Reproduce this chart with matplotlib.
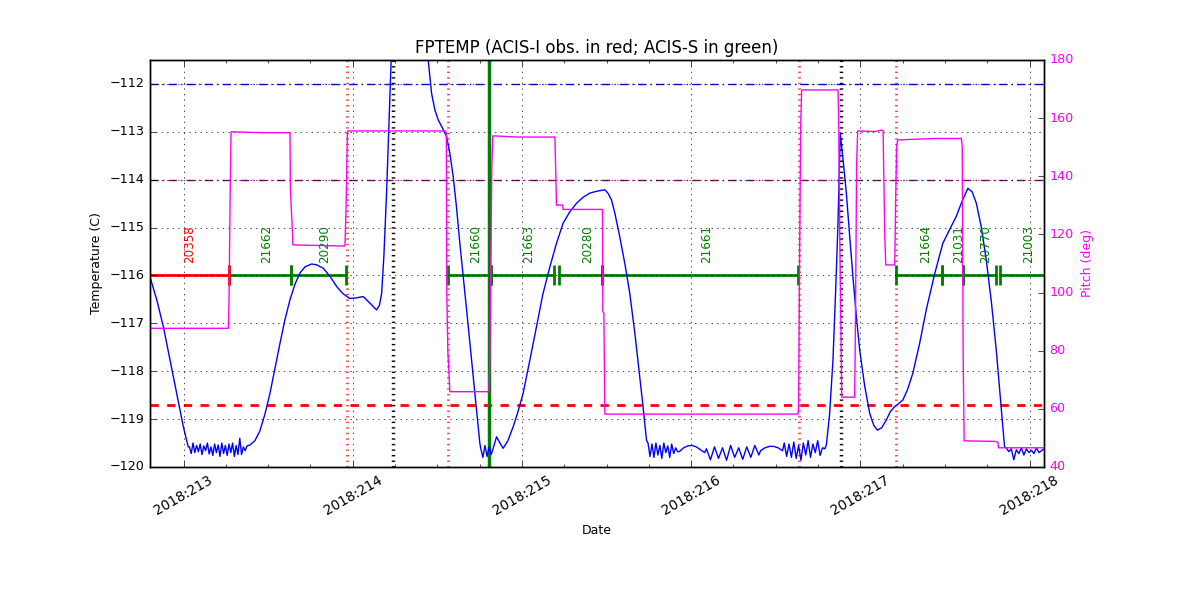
import numpy as np
import matplotlib
matplotlib.use('Agg')
import matplotlib.pyplot as plt
from matplotlib.ticker import FuncFormatter, MultipleLocator

plt.style.use('classic')

# ---- FPTEMP (day of year 2018, deg C) ----
# smooth stretches
t_s1 = [212.802, 212.842, 212.881, 212.920, 212.960, 212.999, 213.028]
v_s1 = [-116.03, -116.51, -117.07, -117.76, -118.46, -119.16, -119.58]
t_s2 = [213.393, 213.422, 213.451, 213.481, 213.511, 213.540, 213.570, 213.599,
        213.629, 213.659, 213.688, 213.718, 213.757, 213.789, 213.826, 213.866,
        213.905, 213.942, 213.983, 214.019, 214.062, 214.102, 214.141, 214.158,
        214.171, 214.184, 214.200, 214.220, 214.232, 214.326, 214.446, 214.466,
        214.486, 214.505, 214.530, 214.555, 214.574, 214.594, 214.614, 214.633,
        214.673, 214.712, 214.751]
v_s2 = [-119.54, -119.45, -119.25, -118.90, -118.46, -117.95, -117.42, -116.93,
        -116.51, -116.18, -115.95, -115.82, -115.76, -115.78, -115.85, -116.02,
        -116.23, -116.38, -116.48, -116.47, -116.44, -116.58, -116.72, -116.62,
        -116.37, -115.60, -114.28, -112.20, -111.00, -109.50, -111.50, -112.20,
        -112.55, -112.75, -112.92, -113.10, -113.45, -113.94, -114.60, -115.33,
        -116.72, -118.11, -119.50]
t_s3 = [214.850, 214.870, 214.889, 214.917, 214.948, 214.976, 215.007, 215.046,
        215.086, 215.123, 215.165, 215.204, 215.243, 215.283, 215.323, 215.360,
        215.401, 215.443, 215.490, 215.508, 215.529, 215.549, 215.578, 215.608,
        215.637, 215.667, 215.696, 215.716, 215.736]
v_s3 = [-119.37, -119.50, -119.61, -119.45, -119.16, -118.85, -118.46, -117.78,
        -117.07, -116.40, -115.82, -115.33, -114.91, -114.67, -114.49, -114.37,
        -114.28, -114.24, -114.21, -114.28, -114.42, -114.70, -115.19, -115.75,
        -116.37, -117.20, -118.11, -118.75, -119.44]
t_s4 = [216.799, 216.818, 216.838, 216.854, 216.867, 216.881, 216.898, 216.917,
        216.936, 216.956, 216.976, 216.996, 217.025, 217.055, 217.079, 217.100,
        217.126, 217.153, 217.176, 217.202, 217.225, 217.251, 217.279, 217.310,
        217.350, 217.389, 217.438, 217.487, 217.526, 217.566, 217.601, 217.635,
        217.660, 217.685, 217.715, 217.744, 217.774, 217.803, 217.828, 217.852]
v_s4 = [-119.54, -118.90, -117.76, -116.30, -114.98, -113.03, -113.60, -114.28,
        -115.15, -116.03, -116.85, -117.56, -118.30, -118.88, -119.13, -119.23,
        -119.18, -119.02, -118.85, -118.74, -118.68, -118.60, -118.38, -118.04,
        -117.42, -116.72, -115.98, -115.33, -115.05, -114.77, -114.45, -114.18,
        -114.25, -114.49, -115.00, -115.68, -116.55, -117.56, -118.60, -119.58]

# flat, jittery stretches near the floor (start day, end day, values)
floor1 = (213.035, 213.375, [-119.58, -119.72, -119.50, -119.70, -119.55, -119.68, -119.52,
                             -119.74, -119.56, -119.66, -119.50, -119.73, -119.58, -119.76,
                             -119.52, -119.70, -119.54, -119.78, -119.50, -119.72, -119.55,
                             -119.76, -119.52, -119.70, -119.50, -119.78, -119.55, -119.74,
                             -119.40, -119.74, -119.58, -119.66, -119.56])
floor2 = (214.757, 214.843, [-119.62, -119.80, -119.55, -119.78, -119.58, -119.74, -119.60, -119.45])
floor3 = (215.745, 215.920, [-119.50, -119.78, -119.52, -119.80, -119.50, -119.75, -119.55, -119.82,
                             -119.50, -119.70, -119.56, -119.80, -119.52, -119.72, -119.60, -119.68])
floor4 = (215.930, 216.080, [-119.68, -119.60, -119.56, -119.55, -119.58, -119.64, -119.70])
floor5 = (216.090, 216.400, [-119.62, -119.85, -119.58, -119.82, -119.60, -119.86, -119.55,
                             -119.80, -119.60, -119.84, -119.58, -119.80, -119.55, -119.75])
floor6 = (216.410, 216.540, [-119.66, -119.60, -119.57, -119.57, -119.60, -119.66])
floor7 = (216.550, 216.790, [-119.50, -119.78, -119.52, -119.80, -119.48, -119.82, -119.55,
                             -119.86, -119.50, -119.75, -119.45, -119.80, -119.52, -119.70,
                             -119.45, -119.76, -119.60, -119.62])
floor8 = (217.862, 218.085, [-119.60, -119.68, -119.62, -119.85, -119.64, -119.72, -119.60,
                             -119.75, -119.62, -119.70, -119.65, -119.72, -119.60, -119.70,
                             -119.66, -119.62])

# ---- pitch (deg) ----
pitch_t = [212.802, 213.265, 213.269, 213.275, 213.281, 213.470, 213.629, 213.632,
           213.641, 213.647, 213.954, 213.960, 213.969, 214.545, 214.553, 214.556,
           214.562, 214.574, 214.804, 214.810, 214.822, 214.828, 214.976, 215.195,
           215.204, 215.241, 215.243, 215.476, 215.478, 215.484, 215.490, 216.631,
           216.635, 216.641, 216.647, 216.653, 216.868, 216.872, 216.878, 216.890,
           216.966, 216.969, 216.978, 216.984, 217.084, 217.120, 217.134, 217.138,
           217.144, 217.150, 217.203, 217.208, 217.214, 217.220, 217.439, 217.597,
           217.602, 217.607, 217.613, 217.790, 217.812, 217.816, 218.085]
pitch_v = [87.7, 87.7, 97.4, 130.7, 155.3, 155.0, 155.0, 135.3,
           124.0, 116.4, 116.0, 128.0, 155.6, 155.6, 155.0, 100.0,
           80.0, 65.9, 65.9, 74.5, 143.0, 153.9, 153.5, 153.5,
           130.1, 130.1, 128.6, 128.6, 93.4, 93.0, 58.2, 58.2,
           60.7, 114.0, 156.6, 169.7, 169.7, 158.0, 120.0, 64.0,
           64.0, 78.5, 144.6, 155.6, 155.4, 155.8, 155.8, 141.0,
           120.0, 109.5, 109.5, 130.0, 150.0, 152.5, 153.0, 153.0,
           149.7, 80.2, 49.0, 48.8, 48.6, 46.6, 46.6]

# ---- observations ----
obs_ids = ['20358', '21662', '20290', '21660', '21663', '20280', '21661',
           '21664', '21031', '20770', '21003']
obs_start = [212.725, 213.269, 213.633, 214.561, 214.815, 215.220, 215.476,
             217.208, 217.484, 217.606, 217.823]
obs_stop = [213.269, 213.633, 213.958, 214.815, 215.190, 215.476, 216.631,
            217.484, 217.606, 217.803, 218.090]
obs_instr = ['I', 'S', 'S', 'S', 'S', 'S', 'S', 'S', 'S', 'S', 'S']

red_lines = [213.964, 214.561, 216.637, 217.213]
black_lines = [214.239, 216.888]
green_line = 214.806

temp_t = list(t_s1)
temp_v = list(v_s1)
for seg_t, seg_v in [(floor1, None), ((t_s2, v_s2), 1), (floor2, None), ((t_s3, v_s3), 1),
                     (floor3, None), (floor4, None), (floor5, None), (floor6, None),
                     (floor7, None), ((t_s4, v_s4), 1), (floor8, None)]:
    if seg_v is None:
        t0, t1, vals = seg_t
        temp_t += list(np.linspace(t0, t1, len(vals)))
        temp_v += vals
    else:
        temp_t += seg_t[0]
        temp_v += seg_t[1]

fig = plt.figure(figsize=(12, 6), dpi=100)
fig.set_facecolor('white')
ax1 = fig.add_axes([0.125, 0.2217, 0.745, 0.6783])
ax2 = ax1.twinx()

# limits
ax1.axhline(-112, color='b', linestyle='-.', lw=1, dashes=(6, 3, 1, 3))
ax1.axhline(-114, color='purple', linestyle='-.', lw=1, dashes=(6, 3, 1, 3))
ax1.axhline(-118.7, color='r', linestyle='--', lw=2)

for x in red_lines:
    ax1.axvline(x, color='r', linestyle=':', lw=2, alpha=0.75)
for x in black_lines:
    ax1.axvline(x, color='k', linestyle=':', lw=2.5)
ax1.axvline(green_line, color='g', lw=2.5)

# observation bars, ACIS-S first so the red ends sit on top
for which in ['S', 'I']:
    for oid, t0, t1, ins in zip(obs_ids, obs_start, obs_stop, obs_instr):
        if ins != which:
            continue
        clr = 'r' if ins == 'I' else 'g'
        ax1.plot([t0, t1], [-116, -116], '-|', color=clr, lw=2, ms=14, mew=2)
        ax1.text((t0 + t1) / 2, -115.73, oid, rotation=90, color=clr,
                 ha='left', va='bottom', fontsize=8.6)

ax1.plot(temp_t, temp_v, color='b', lw=1)
ax2.plot(pitch_t, pitch_v, color='magenta', lw=1)

ax1.set_xlim(212.802, 218.085)
ax1.set_ylim(-120, -111.5)
ax1.set_yticks(np.arange(-120, -111, 1))
ax2.set_ylim(40, 180)
ax2.set_yticks(np.arange(40, 181, 20))

ax1.xaxis.set_major_locator(MultipleLocator(1))
ax1.xaxis.set_minor_locator(MultipleLocator(0.25))
ax1.xaxis.set_major_formatter(FuncFormatter(lambda v, p: '2018:%d' % round(v)))
ax1.tick_params(axis='y', labelsize=9.2)
ax1.tick_params(axis='x', labelsize=9.8)
ax2.tick_params(labelsize=9.2, labelcolor='magenta')
for lab in ax1.get_xticklabels():
    lab.set_rotation(30)
    lab.set_ha('center')
ax1.grid(True)

ax1.set_title('FPTEMP (ACIS-I obs. in red; ACIS-S in green)', fontsize=12)
ax1.set_xlabel('Date', fontsize=9)
ax1.set_ylabel('Temperature (C)', fontsize=9)
ax2.set_ylabel('Pitch (deg)', fontsize=9, color='magenta')

fig.savefig('out.png', dpi=100, facecolor='white')
